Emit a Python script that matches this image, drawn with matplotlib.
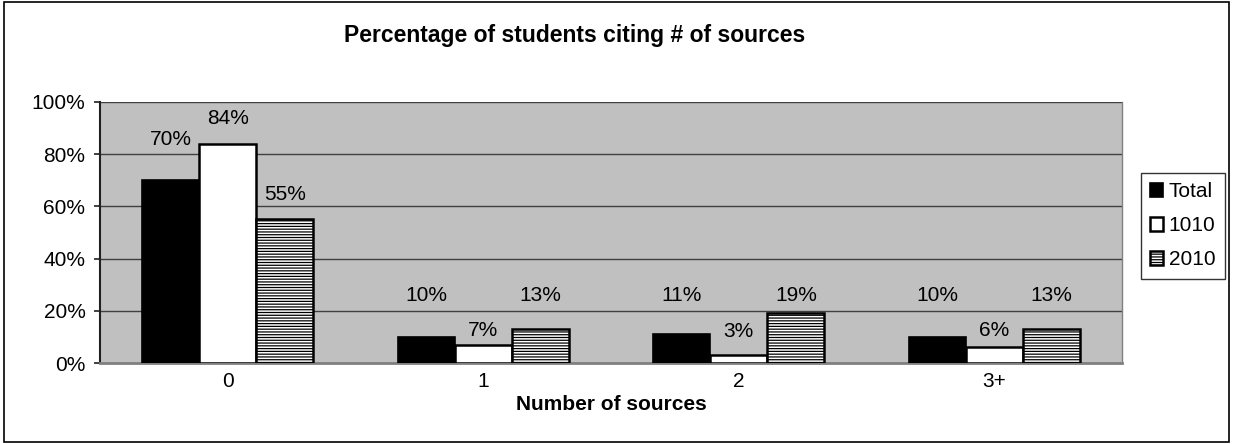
import numpy as np
import matplotlib.pyplot as plt
from matplotlib.patches import Rectangle

plt.rcParams['font.family'] = ['Liberation Sans', 'DejaVu Sans']
plt.rcParams['hatch.color'] = '#a8a8a8'
plt.rcParams['hatch.linewidth'] = 0.9

categories = ["0", "1", "2", "3+"]
total = [70, 10, 11, 10]
s1010 = [84, 7, 3, 6]
s2010 = [55, 13, 19, 13]
labels_total = ["70%", "10%", "11%", "10%"]
labels_1010 = ["84%", "7%", "3%", "6%"]
labels_2010 = ["55%", "13%", "19%", "13%"]

# where Excel put the value labels (y of label centre, in axis units)
lab_y_total = [85.5, 26, 26, 26]
lab_y_1010 = [93.5, 12.5, 12, 12.5]
lab_y_2010 = [64.5, 26, 26, 26]

fig = plt.figure(figsize=(12.33, 4.44), dpi=100)
ax = fig.add_axes([0.0811, 0.1824, 0.8290, 0.5880])
ax.set_facecolor('#c0c0c0')

x = np.arange(len(categories))
w = 0.223
b1 = ax.bar(x - w, total, w, color='black', edgecolor='black', linewidth=1.2, label='Total', zorder=3)
b2 = ax.bar(x, s1010, w, color='white', edgecolor='black', linewidth=1.8, label='1010', zorder=3)
b3 = ax.bar(x + w, s2010, w, color='white', edgecolor='black', linewidth=1.8,
            hatch='------', label='2010', zorder=3)

for bars, labs, ys in [(b1, labels_total, lab_y_total),
                       (b2, labels_1010, lab_y_1010),
                       (b3, labels_2010, lab_y_2010)]:
    for rect, lab, yy in zip(bars, labs, ys):
        ax.text(rect.get_x() + rect.get_width() / 2, yy, lab,
                ha='center', va='center', fontsize=15, zorder=4)

ax.set_xlim(-0.5, 3.5)
ax.set_ylim(0, 100)
ax.set_yticks(np.arange(0, 101, 20))
ax.set_yticklabels([f"{v}%" for v in range(0, 101, 20)], fontsize=15)
ax.set_xticks(x)
ax.set_xticklabels(categories, fontsize=15)
ax.tick_params(axis='x', length=0, pad=6.5)
ax.tick_params(axis='y', length=4.5, width=1.2, color='#202020', pad=6)
ax.yaxis.grid(True, color='#404040', linewidth=1.0, zorder=1)
ax.spines['top'].set_visible(False)
ax.spines['right'].set_color('#808080')
ax.spines['right'].set_linewidth(1.0)
ax.spines['left'].set_color('#202020')
ax.spines['left'].set_linewidth(1.5)
ax.spines['bottom'].set_color('#808080')
ax.spines['bottom'].set_linewidth(2.0)
ax.set_xlabel("Number of sources", fontsize=15, fontweight='bold', labelpad=3)

fig.text(0.466, 0.921, "Percentage of students citing # of sources",
         fontsize=16.5, fontweight='bold', ha='center', va='center')

leg = fig.legend(loc='center left', bbox_to_anchor=(0.925, 0.491), fontsize=15, frameon=True,
                 fancybox=False, edgecolor='black', handlelength=0.65, handleheight=0.65,
                 handletextpad=0.25, labelspacing=0.72, borderpad=0.45, borderaxespad=0)
leg.get_frame().set_linewidth(1.0)

fig.patches.append(Rectangle((0.003, 0.004), 0.994, 0.992, transform=fig.transFigure,
                             fill=False, edgecolor='black', linewidth=1.2))

fig.savefig('out.png', dpi=100)
